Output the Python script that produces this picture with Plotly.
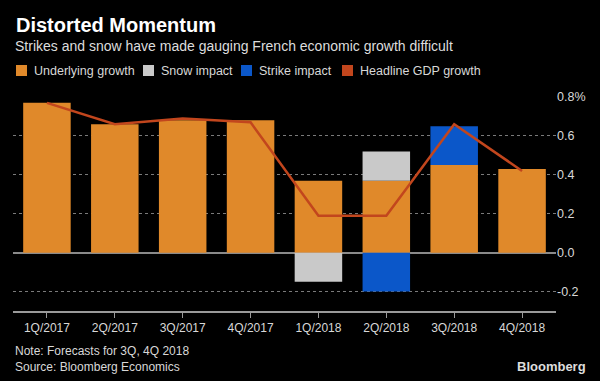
import plotly.graph_objects as go

quarters = ["1Q/2017", "2Q/2017", "3Q/2017", "4Q/2017", "1Q/2018", "2Q/2018", "3Q/2018", "4Q/2018"]
underlying = [0.77, 0.66, 0.68, 0.68, 0.37, 0.37, 0.45, 0.43]
snow = [0, 0, 0, 0, -0.15, 0.15, 0, 0]
strike = [0, 0, 0, 0, 0, -0.20, 0.20, 0]
headline = [0.77, 0.66, 0.69, 0.67, 0.19, 0.19, 0.66, 0.42]
ytick_vals = [-0.2, 0.0, 0.2, 0.4, 0.6, 0.8]
ytick_text = ["-0.2", "0.0", "0.2", "0.4", "0.6", "0.8%"]

C_ORANGE = "#e0892a"
C_GRAY = "#c9c9c9"
C_BLUE = "#0b57c9"
C_RED = "#c2461d"
FONT = "Liberation Sans"

M_L, M_R, M_T, M_B = 13, 44, 97, 70
W, H = 600, 381

fig = go.Figure()
fig.add_bar(x=quarters, y=underlying, marker_color=C_ORANGE, marker_line_width=0, name="Underlying growth")
fig.add_bar(x=quarters, y=snow, marker_color=C_GRAY, marker_line_width=0, name="Snow impact")
fig.add_bar(x=quarters, y=strike, marker_color=C_BLUE, marker_line_width=0, name="Strike impact")
fig.add_scatter(x=quarters, y=headline, mode="lines", line=dict(color=C_RED, width=2.5), name="Headline GDP growth")

fig.update_layout(
    width=W, height=H,
    barmode="relative", bargap=0.3,
    paper_bgcolor="black", plot_bgcolor="black",
    showlegend=False,
    margin=dict(l=M_L, r=M_R, t=M_T, b=M_B),
    font=dict(family=FONT, color="#d8d8d8", size=12),
)
fig.update_xaxes(
    type="category", range=[-0.5, 7.5],
    showline=True, linecolor="#9a9a9a", linewidth=2,
    ticks="outside", ticklen=5, tickcolor="#9a9a9a",
    tickfont=dict(size=12, color="#d8d8d8"), showgrid=False,
)
fig.update_yaxes(
    range=[-0.3, 0.8], side="right",
    tickvals=ytick_vals, ticktext=ytick_text,
    showgrid=True, gridcolor="#7a7a7a", griddash="dot", gridwidth=1,
    zeroline=True, zerolinecolor="#8a8a8a", zerolinewidth=1.5,
    tickfont=dict(size=12.5, color="#d8d8d8"), ticks="",
)

def paper_y(py):
    top = M_T; bottom = H - M_B
    return (bottom - py) / (bottom - top)
def paper_x(px):
    left = M_L; right = W - M_R
    return (px - left) / (right - left)

fig.add_annotation(text="<b>Distorted Momentum</b>", xref="paper", yref="paper",
                   x=paper_x(14), y=paper_y(25), xanchor="left", yanchor="middle", showarrow=False,
                   font=dict(size=20, color="white", family=FONT))
fig.add_annotation(text="Strikes and snow have made gauging French economic growth difficult", xref="paper", yref="paper",
                   x=paper_x(13), y=paper_y(46), xanchor="left", yanchor="middle", showarrow=False,
                   font=dict(size=14, color="#dddddd", family=FONT))

legend_items = [("Underlying growth", C_ORANGE, 16), ("Snow impact", C_GRAY, 143),
                ("Strike impact", C_BLUE, 241), ("Headline GDP growth", C_RED, 342)]
for label, col, px in legend_items:
    fig.add_shape(type="rect", xref="paper", yref="paper",
                  x0=paper_x(px), x1=paper_x(px + 11), y0=paper_y(76), y1=paper_y(65),
                  fillcolor=col, line_width=0)
    fig.add_annotation(text=label, xref="paper", yref="paper",
                       x=paper_x(px + 16), y=paper_y(70.5), xanchor="left", yanchor="middle", showarrow=False,
                       font=dict(size=12.5, color="#d8d8d8", family=FONT))

fig.add_annotation(text="Note: Forecasts for 3Q, 4Q 2018<br>Source: Bloomberg Economics", xref="paper", yref="paper",
                   x=paper_x(13), y=paper_y(358.5), xanchor="left", yanchor="middle", align="left", showarrow=False,
                   font=dict(size=12, color="#d8d8d8", family=FONT))
fig.add_annotation(text="<b>Bloomberg</b>", xref="paper", yref="paper",
                   x=paper_x(588), y=paper_y(366), xanchor="right", yanchor="middle", showarrow=False,
                   font=dict(size=13, color="#dddddd", family=FONT))

fig.write_html("out.html", config={"displayModeBar": False},
               post_script="document.body.style.margin='0';document.body.style.overflow='hidden';")
